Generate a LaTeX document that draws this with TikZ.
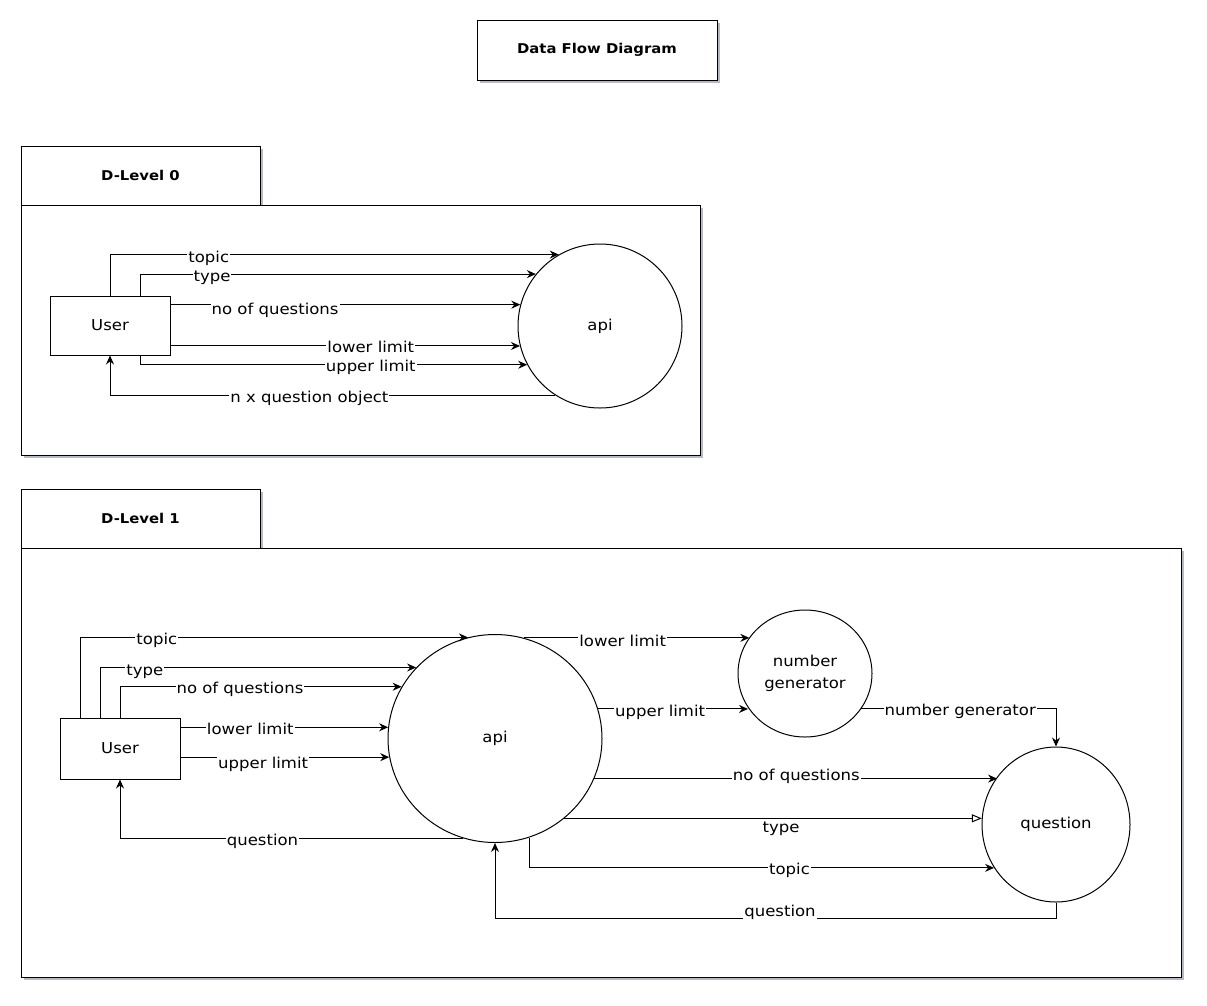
\documentclass[tikz,border=0pt]{standalone}
\usepackage{fontspec}
\setmainfont{DejaVu Sans}[FakeStretch=1.1]
\usetikzlibrary{arrows.meta,shapes.geometric,shadows}

\definecolor{shadowgrey}{RGB}{120,130,150}

\begin{document}
\begin{tikzpicture}[x=1pt,y=-1pt,
  font=\fontsize{15}{22}\selectfont,
  panel/.style={draw, line width=1pt, fill=white, inner sep=0pt,
    drop shadow={shadow xshift=2.5pt, shadow yshift=-2.5pt, fill=shadowgrey, opacity=0.55}},
  heading/.style={font=\fontsize{13.5}{16}\selectfont\bfseries},
  entity/.style={draw, line width=1pt, fill=white, inner sep=0pt,
    minimum width=120pt},
  process/.style={draw, line width=1pt, fill=white, ellipse, inner sep=0pt, align=center},
  flow/.style={draw, line width=1pt, -{Stealth[length=9pt,width=8pt,inset=3pt]}},
  openflow/.style={draw, line width=1pt, -{Triangle[open,length=10pt,width=8pt]}},
  lbl/.style={fill=white, inner sep=1pt}]

\useasboundingbox (0,0) rectangle (1207,1005);

% ---------- title ----------
\node[panel, heading, minimum width=240pt, minimum height=60pt] (title) at (597,50) {Data Flow Diagram};

% ---------- level 0 frame ----------
\node[panel, heading, minimum width=239pt, minimum height=59pt] (tab0) at (140.5,175.5) {D-Level 0};
\node[panel, minimum width=679pt, minimum height=250pt] (frame0) at (360.5,330) {};

% ---------- level 1 frame ----------
\node[panel, heading, minimum width=239pt, minimum height=59pt] (tab1) at (140.5,518.5) {D-Level 1};
\node[panel, minimum width=1160pt, minimum height=429pt] (frame1) at (601,762.5) {};

% ---------- level 0 ----------
\node[entity, minimum height=59pt] (user0) at (110,325.5) {User};
\node[process, circle, minimum size=164pt] (api0) at (600,326) {api};

\draw[flow] (user0.north) |- (api0.120)
  node[lbl, pos=0.61, yshift=-4pt] (l0topic) {topic};
\draw[flow] ([xshift=30pt]user0.north) |- (api0.141.5)
  node[lbl, pos=0.591, yshift=-4pt] (l0type) {type};
\draw[flow] (user0.east |- api0.165.2) -- (api0.165.2)
  node[lbl, pos=0.299, yshift=-6pt] (l0num) {no of questions};
\draw[flow] (user0.east |- api0.194.1) -- (api0.194.1)
  node[lbl, pos=0.573, yshift=-1pt] (l0low) {lower limit};
\draw[flow] ([xshift=30pt]user0.south) |- (api0.208.4)
  node[lbl, pos=0.798, yshift=-3pt] (l0up) {upper limit};
\draw[flow] (api0.237.3) -| (user0.south)
  node[lbl, pos=0.276, yshift=-3pt] (l0ret) {n x question object};

% ---------- level 1 ----------
\node[entity, minimum height=61pt] (user1) at (120,748.5) {User};
\node[process, minimum width=214pt, minimum height=208pt] (api1) at (495,738.5) {api};
\node[process, minimum width=134pt, minimum height=127pt] (ng) at (805,673.5) {number\\generator};
\node[process, minimum width=148pt, minimum height=155pt] (q) at (1056,824.5) {question};

\draw[flow] ([xshift=-40pt]user1.north) |- (api1.105.3)
  node[lbl, pos=0.599, yshift=-3pt] (l1topic) {topic};
\draw[flow] ([xshift=-20pt]user1.north) |- (api1.138.1)
  node[lbl, pos=0.571, yshift=-4pt] (l1type) {type};
\draw[flow] (user1.north) |- (api1.151.6)
  node[lbl, pos=0.713, yshift=-3pt] (l1num) {no of questions};
\draw[flow] (user1.east |- api1.174.4) -- (api1.174.4)
  node[lbl, pos=0.336, yshift=-2pt] (l1low) {lower limit};
\draw[flow] (user1.east |- api1.190) -- (api1.190)
  node[lbl, pos=0.396, yshift=-7pt] (l1up) {upper limit};
\draw[flow] (api1.252.6) -| (user1.south)
  node[lbl, pos=0.292, yshift=-3pt] (l1ret) {question};

\draw[flow] (api1.74.7) -- (ng.147.45 |- api1.74.7)
  node[lbl, pos=0.4385, yshift=-3pt] (l1nglow) {lower limit};
\draw[flow] (api1.16.6) -- (ng.211.5 |- api1.16.6)
  node[lbl, pos=0.414, yshift=-3pt] (l1ngup) {upper limit};
\draw[flow] (ng.328.5) -| (q.north)
  node[lbl, pos=0.254, yshift=-3pt] (l1ngout) {number generator};
\draw[flow] (api1.338.25) -- (q.141.85 |- api1.338.25)
  node[lbl, pos=0.5015, yshift=2pt] (l1qnum) {no of questions};
\draw[openflow] (api1.311) -- (q.174.96 |- api1.311)
  node[lbl, pos=0.519, yshift=-10pt] (l1qtype) {type};
\draw[flow] (api1.289.6) |- (q.215.4)
  node[lbl, pos=0.78, yshift=-2pt] (l1qtopic) {topic};
\draw[flow] (q.south) -- ++(0,16) -| (api1.south)
  node[lbl, pos=0.246, yshift=6pt] (l1qret) {question};

\end{tikzpicture}
\end{document}
